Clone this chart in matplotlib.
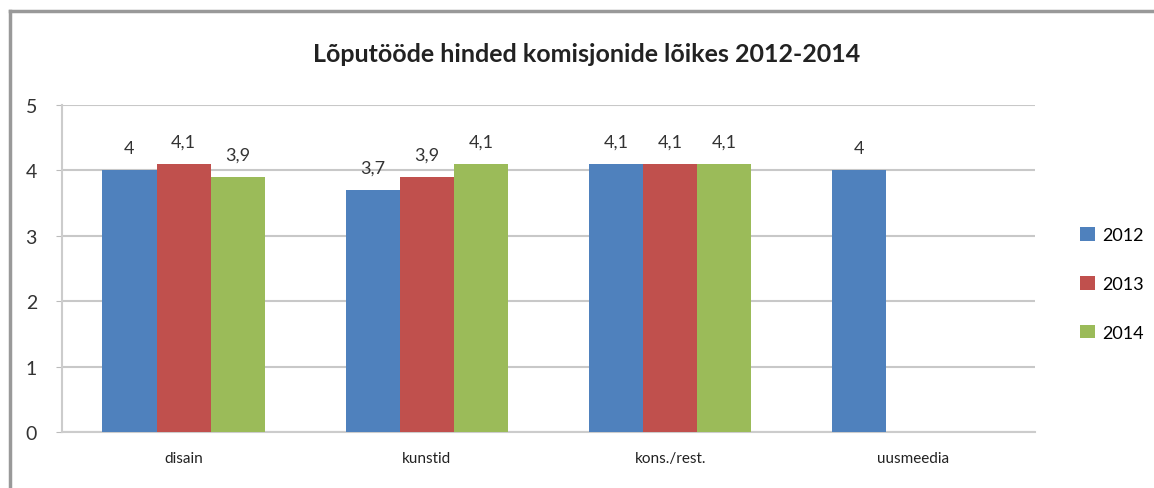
import numpy as np
import matplotlib.pyplot as plt
from matplotlib.lines import Line2D
from matplotlib.patches import Patch

plt.rcParams['font.family'] = ['Lato', 'DejaVu Sans']

categories = ["disain", "kunstid", "kons./rest.", "uusmeedia"]
years = ["2012", "2013", "2014"]
v2012 = [4.0, 3.7, 4.1, 4.0]
v2013 = [4.1, 3.9, 4.1, np.nan]
v2014 = [3.9, 4.1, 4.1, np.nan]
colors = ["#4F81BD", "#C0504D", "#9BBB59"]

fig = plt.figure(figsize=(11.54, 4.89), dpi=100)
ax = fig.add_axes([62 / 1154, 56 / 489, (1035 - 62) / 1154, (433 - 106) / 489])

x = np.arange(len(categories))
w = 0.223
for i, (vals, c) in enumerate(zip([v2012, v2013, v2014], colors)):
    pos = x + (i - 1) * w
    ax.bar(pos, vals, width=w, color=c, zorder=3)
    for p, v in zip(pos, vals):
        if np.isnan(v):
            continue
        lab = ("%.1f" % v).replace(".", ",")
        if lab.endswith(",0"):
            lab = lab[:-2]
        ax.text(p, v + 0.22, lab, ha="center", va="bottom", fontsize=13, color="#333333")

ax.set_xlim(-0.5, len(categories) - 0.5)
ax.set_ylim(0, 5)
ax.set_yticks(range(6))
ax.set_xticks(x)
ax.set_xticklabels(categories, fontsize=11, color="#222222")
ax.tick_params(axis="x", length=0, pad=14)
ax.tick_params(axis="y", length=4, color="#bbbbbb", labelsize=14, labelcolor="#333333", pad=14)
ax.grid(axis="y", color="#c8c8c8", linewidth=1.5, zorder=0)
for s in ["top", "right"]:
    ax.spines[s].set_visible(False)
ax.spines["left"].set_color("#cccccc")
ax.spines["bottom"].set_color("#cccccc")
ax.spines["left"].set_linewidth(1.5)
ax.spines["bottom"].set_linewidth(1.5)

fig.text(587 / 1154, 1 - 55 / 489, "Lõputööde hinded komisjonide lõikes 2012-2014",
         ha="center", va="center", fontsize=18, fontweight="bold", color="#222222")

handles = [Patch(facecolor=c) for c in colors]
fig.legend(handles, years, loc="center left", bbox_to_anchor=(1064 / 1154, 1 - 285 / 489),
           frameon=False, fontsize=13, handlelength=0.8, handleheight=0.8,
           labelspacing=1.8, handletextpad=0.4)

# frame lines along top and left of the chart
fig.add_artist(Line2D([10 / 1154, 10 / 1154], [0, 1 - 12 / 489], color="#999999", lw=2.5))
fig.add_artist(Line2D([10 / 1154, 1], [1 - 12 / 489, 1 - 12 / 489], color="#999999", lw=2.5))

fig.savefig("out.png", dpi=100)
